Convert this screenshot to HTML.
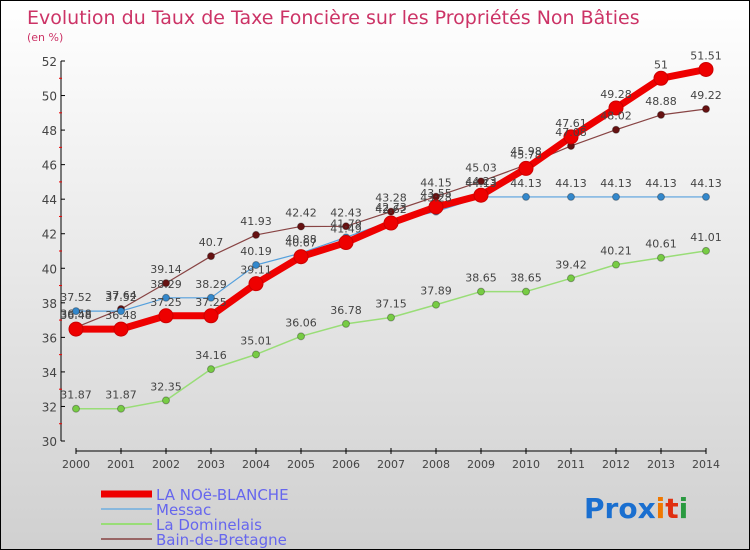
<!DOCTYPE html>
<html><head><meta charset="utf-8"><style>
body{margin:0}
#c{width:750px;height:550px;position:relative;box-sizing:border-box;border:1px solid #000;background:linear-gradient(#fff,#d0d0d0);overflow:hidden;font-family:"DejaVu Sans","Liberation Sans",sans-serif}
svg text{font-family:"DejaVu Sans","Liberation Sans",sans-serif}
</style></head><body>
<div id="c">
<svg width="750" height="550" id="s">
<text x="26" y="23" font-size="19" fill="#cc3366">Evolution du Taux de Taxe Foncière sur les Propriétés Non Bâties</text>
<text x="26" y="40" font-size="11" fill="#cc3366">(en %)</text>
<g id="g"></g>
<text x="583" y="517" font-size="28" font-family="Liberation Sans" font-weight="bold"><tspan fill="#1a6fd0">Pro</tspan><tspan fill="#1a6fd0">x</tspan><tspan fill="#f07800">i</tspan><tspan fill="#e03010">t</tspan><tspan fill="#2a9a40">i</tspan></text>
</svg>
</div>
<script>
const years=[2000,2001,2002,2003,2004,2005,2006,2007,2008,2009,2010,2011,2012,2013,2014];
const yTicks=[30,32,34,36,38,40,42,44,46,48,50,52];
const noe=[36.48,36.48,37.25,37.25,39.11,40.67,41.49,42.62,43.55,44.23,45.78,47.61,49.28,51,51.51];
const messac=[37.52,37.52,38.29,38.29,40.19,40.88,41.79,42.73,43.28,44.13,44.13,44.13,44.13,44.13,44.13];
const domin=[31.87,31.87,32.35,34.16,35.01,36.06,36.78,37.15,37.89,38.65,38.65,39.42,40.21,40.61,41.01];
const bain=[36.58,37.64,39.14,40.7,41.93,42.42,42.43,43.28,44.15,45.03,45.98,47.08,48.02,48.88,49.22];
const names=["LA NOë-BLANCHE","Messac","La Dominelais","Bain-de-Bretagne"];
const NS="http://www.w3.org/2000/svg",g=document.getElementById('g');
const xs=i=>75+i*45, ys=v=>440-(v-30)*(380/22);
function mk(t,a,p){const e=document.createElementNS(NS,t);for(const k in a)e.setAttribute(k,a[k]);(p||g).appendChild(e);return e;}
let ax=mk('line',{x1:60,y1:60,x2:60,y2:440,stroke:'#000'});

yTicks.forEach(v=>{mk('line',{x1:60,x2:64,y1:ys(v),y2:ys(v),stroke:'#000'});
 if(v<52)mk('line',{x1:58,x2:61,y1:ys(v+1),y2:ys(v+1),stroke:'#e00'});
 const t=mk('text',{x:56,y:ys(v)+5,'font-size':12,fill:'#444','text-anchor':'end'});t.textContent=v;
 });
let xa=mk('line',{x1:75,y1:450,x2:705,y2:450,stroke:'#000'});

years.forEach((y,i)=>{mk('line',{x1:xs(i),x2:xs(i),y1:447,y2:453,stroke:'#000'});
 const t=mk('text',{x:xs(i),y:467,'font-size':11,fill:'#444','text-anchor':'middle'});t.textContent=y;
 });
const series=[[domin,'#99dd77','#77cc44',1.5,3.5,'la-dominelais'],[bain,'#884444','#661111',1.2,3.5,'bain-de-bretagne'],[messac,'#55a0dd','#3388cc',1.2,3.5,'messac'],[noe,'#ee0000','#ee0000',7,7,'la-noe-blanche']];
series.forEach(([d,lc,pc,w,r,n])=>{
 const l=mk('polyline',{points:d.map((v,i)=>xs(i)+','+ys(v)).join(' '),fill:'none',stroke:lc,'stroke-width':w,'stroke-linejoin':'round'});
 
 d.forEach((v,i)=>{const c=mk('circle',{cx:xs(i),cy:ys(v),r:r,fill:pc,stroke:n=='la-noe-blanche'?'#cc0000':'rgba(0,0,0,0.3)'});
  });
});
series.forEach(([d,,,,,n])=>d.forEach((v,i)=>{const t=mk('text',{x:xs(i),y:ys(v)-10,'font-size':11,fill:'#444','text-anchor':'middle'});t.textContent=v;
 }));
const lg=[['#ee0000',7],['#88b8dd',2],['#99dd77',2],['#996666',2]];
lg.forEach(([c,w],i)=>{const y=493+i*15;
 const l=mk('line',{x1:100,x2:151,y1:y,y2:y,stroke:c,'stroke-width':w});
 
 const t=mk('text',{x:155,y:y+6,'font-size':15,fill:'#6666ee'});t.textContent=names[i];
 });
</script>
</body></html>
